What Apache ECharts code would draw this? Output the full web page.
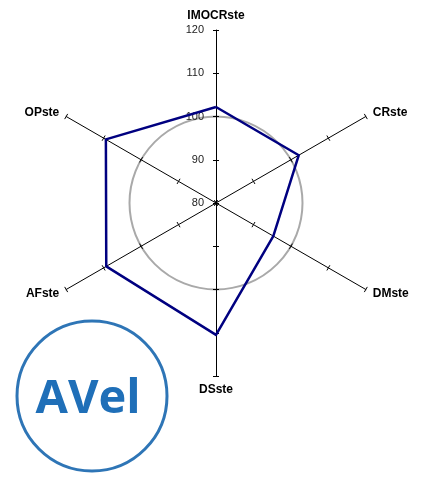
<!DOCTYPE html>
<html>
<head>
<meta charset="utf-8">
<script src="https://cdn.jsdelivr.net/npm/echarts@6/dist/echarts.min.js"></script>
<style>
  html, body { margin: 0; padding: 0; background: #fff; }
  #chart { width: 427px; height: 477px; }
</style>
</head>
<body>
<div id="chart"></div>
<script>
// indicators go counter-clockwise from the top
const indicatorNames = ['IMOCRste', 'OPste', 'AFste', 'DSste', 'DMste', 'CRste']
const seriesValues = [102.2, 109.4, 109.3, 110.5, 95.3, 102.1]
const axisMin = 80
const axisMax = 120
const axisStep = 10
const logoText = 'AVel'

const chart = echarts.init(document.getElementById('chart'))

const indicators = indicatorNames.map(name => ({ name: name, min: axisMin, max: axisMax }))

const baseRadar = {
  center: [216, 203],
  radius: 173,
  startAngle: 90,
  shape: 'circle',
  splitNumber: (axisMax - axisMin) / axisStep,
  indicator: indicators,
  splitArea: { show: false },
  axisLabel: { show: false }
}

const options = {
  animation: false,
  radar: [
    Object.assign({}, baseRadar, {
      nameGap: 8,
      axisName: {
        color: '#000',
        fontFamily: 'Liberation Sans',
        fontWeight: 'bold',
        fontSize: 12
      },
      axisLine: { lineStyle: { color: '#000', width: 1 } },
      axisTick: { show: true, length: 3, lineStyle: { color: '#000', width: 1 } },
      // only the 100 ring is drawn, as a grey reference circle
      splitLine: {
        show: true,
        lineStyle: { color: ['transparent', 'transparent', '#a9a9a9', 'transparent', 'transparent'], width: 2 }
      }
    }),
    // second copy only to make the ticks cross the axis
    Object.assign({}, baseRadar, {
      axisName: { show: false },
      axisLine: { show: true, lineStyle: { color: 'transparent' } },
      axisTick: { show: true, length: -3, lineStyle: { color: '#000', width: 1 } },
      splitLine: { show: false }
    })
  ],
  polar: {
    center: [216, 203],
    radius: 173
  },
  angleAxis: {
    startAngle: 90,
    show: false
  },
  radiusAxis: {
    min: axisMin,
    max: axisMax,
    interval: axisStep,
    axisLine: { show: false },
    axisTick: { show: false },
    splitLine: { show: false },
    axisLabel: {
      color: '#222',
      fontFamily: 'Liberation Sans',
      fontSize: 11,
      margin: 12
    }
  },
  graphic: [
    {
      type: 'circle',
      shape: { cx: 92, cy: 396, r: 75 },
      style: { fill: 'none', stroke: '#2e75b6', lineWidth: 3 }
    },
    {
      type: 'text',
      x: 88,
      y: 400,
      style: {
        text: logoText,
        fill: '#1f6fb8',
        font: 'bold 47px "Open Sans"',
        align: 'center',
        verticalAlign: 'middle'
      }
    }
  ],
  series: [{
    type: 'radar',
    radarIndex: 0,
    symbol: 'none',
    lineStyle: { color: '#000080', width: 2.5 },
    data: [{ value: seriesValues, name: 'ste' }]
  }]
}
chart.setOption(options)
</script>
</body>
</html>
